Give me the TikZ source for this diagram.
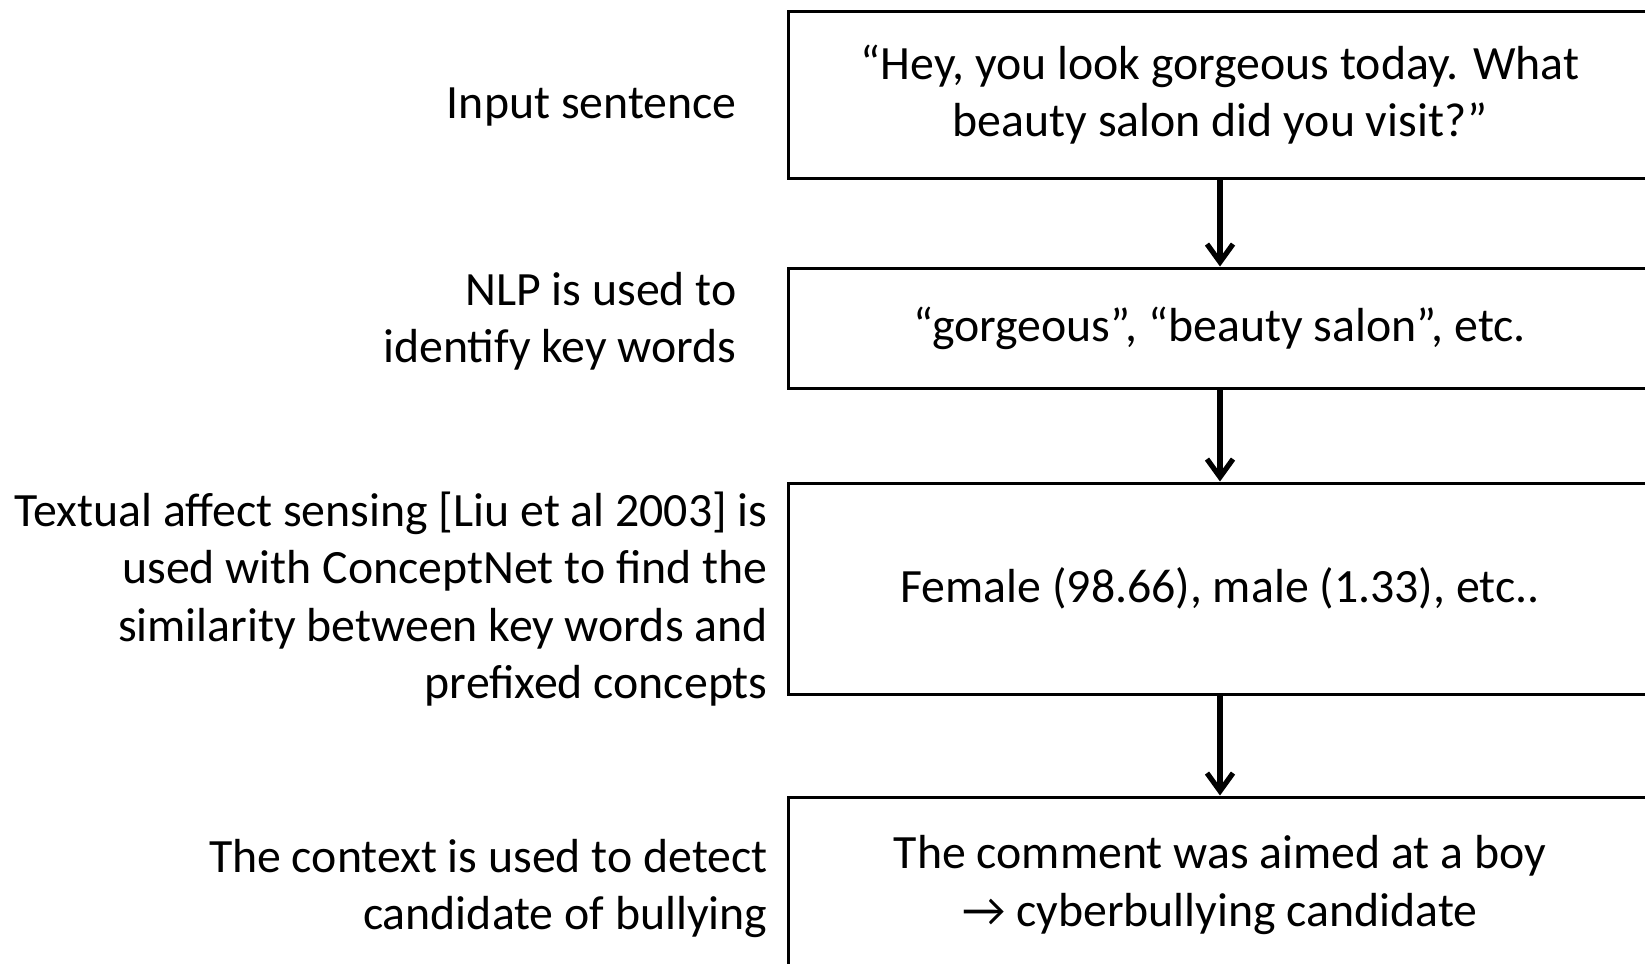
\documentclass[tikz,border=0pt]{standalone}
\usepackage{fontspec}
\setmainfont{Carlito}
\usetikzlibrary{arrows.meta, positioning}

\begin{document}
\begin{tikzpicture}[x=0.5pt, y=-0.5pt,
    every node/.style={font=\fontsize{23.9}{28.6}\selectfont},
    stepbox/.style={draw, line width=1.5pt, minimum width=432pt, align=center, inner sep=0pt},
    sidelabel/.style={anchor=east, align=right, inner sep=0pt},
    flow/.style={-{Straight Barb[length=9pt, width=13pt]}, line width=2.6pt}]
    \useasboundingbox (0,0) rectangle (1645,964);
    \clip (0,0) rectangle (1645,964);
    % boxes on the right
    \node[stepbox, minimum height=83.5pt] (input) at (1220,94.5) {“Hey, you look gorgeous today. What\\beauty salon did you visit?”};
    \node[stepbox, minimum height=60pt] (keys) at (1220,328) {“gorgeous”, “beauty salon”, etc.};
    \node[stepbox, minimum height=105.5pt] (affect) at (1220,588.5) {Female (98.66), male (1.33), etc..};
    \node[stepbox, minimum height=88pt] (result) at (1220,885) {The comment was aimed at a boy\\→ cyberbullying candidate};
    % labels on the left
    \node[sidelabel] (lblinput) at (737,107) {Input sentence};
    \node[sidelabel] (lblkeys) at (737,321.5) {NLP is used to\\identify key words};
    \node[sidelabel] (lblaffect) at (768,599) {Textual affect sensing [Liu et al 2003] is\\used with ConceptNet to find the\\similarity between key words and\\prefixed concepts};
    \node[sidelabel] (lblresult) at (768,888.5) {The context is used to detect\\candidate of bullying};
    % arrows
    \draw[flow] (input.south) -- (keys.north);
    \draw[flow] (keys.south) -- (affect.north);
    \draw[flow] (affect.south) -- (result.north);
\end{tikzpicture}
\end{document}
